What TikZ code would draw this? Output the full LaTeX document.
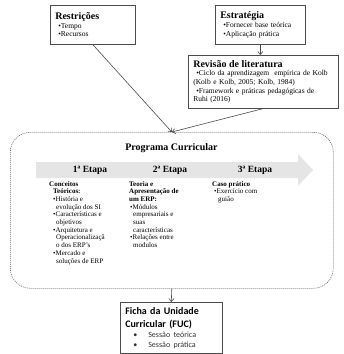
\documentclass[tikz,border=0pt]{standalone}
\usepackage{fontspec}
\setmainfont{Liberation Serif}
\newfontfamily\fucfont{Carlito}
\usetikzlibrary{arrows.meta}

\begin{document}
\begin{tikzpicture}[x=1pt,y=-1pt]
  \tikzstyle{caixa}=[draw=black!70, line width=0.6pt, anchor=north west, inner sep=5pt, align=left, font=\fontsize{7.5}{8.6}\selectfont]
  \tikzstyle{texto}=[anchor=north west, inner sep=0pt, align=left, font=\fontsize{7}{7.7}\selectfont]
  \tikzstyle{etapa}=[inner sep=0pt, font=\bfseries\fontsize{9.5}{11}\selectfont]
  \tikzstyle{seta}=[-{Straight Barb[length=3pt,width=5pt]}, draw=black!70, line width=0.6pt]
  \useasboundingbox[fill=white] (0,0) rectangle (344,354);

  % caixas de cima
  \node[caixa, text width=75pt, minimum height=39pt] (restr) at (50,5)
    {{\bfseries\fontsize{10}{12}\selectfont Restrições\par}
     \hspace*{3pt}•Tempo\\
     \hspace*{3pt}•Recursos};
  \node[caixa, text width=80pt, minimum height=39pt] (est) at (215,5)
    {{\bfseries\fontsize{10}{12}\selectfont Estratégia\par}
     \hspace*{3pt}•Fornecer base teórica\\
     \hspace*{3pt}•Aplicação prática};
  \node[caixa, text width=140pt, minimum height=52pt] (rev) at (188,55)
    {{\bfseries\fontsize{10}{12}\selectfont Revisão de literatura\par}
     \hspace*{3pt}•Ciclo da aprendizagem \ empírica de Kolb\\
     (Kolb e Kolb, 2005; Kolb, 1984)\\
     \hspace*{3pt}•Framework e práticas pedagógicas de\\
     Ruhi (2016)};

  % programa curricular
  \node[draw=black!60, line width=0.6pt, dash pattern=on 1pt off 1pt, rounded corners=20pt,
        anchor=north west, minimum width=323pt, minimum height=156pt] (prog) at (10,132) {};
  \node[inner sep=0pt, font=\bfseries\fontsize{10}{12}\selectfont] (titulo) at (171.5,148) {Programa Curricular};
  \fill[black!10] (36,162) -- (298,162) -- (298,154) -- (313,170) -- (298,186) -- (298,178) -- (36,178) -- cycle;
  \node[etapa] (e1) at (90,170) {1ª Etapa};
  \node[etapa] (e2) at (170,170) {2ª Etapa};
  \node[etapa] (e3) at (255,170) {3ª Etapa};

  \node[texto] (c1) at (49,181)
    {\textbf{Conceitos}\\
     \hspace*{4pt}\textbf{Teóricos:}\\
     \hspace*{4pt}•História e\\
     \hspace*{7pt}evolução dos SI\\
     \hspace*{4pt}•Características e\\
     \hspace*{7pt}objetivos\\
     \hspace*{4pt}•Arquitetura e\\
     \hspace*{7pt}Operacionalizaçã\\
     \hspace*{7pt}o dos ERP’s\\
     \hspace*{4pt}•Mercado e\\
     \hspace*{7pt}soluções de ERP};
  \node[texto] (c2) at (129,181)
    {\textbf{Teoria e}\\
     \textbf{Apresentação de}\\
     \textbf{um ERP:}\\
     \hspace*{1pt}•Módulos\\
     \hspace*{4pt}empresariais e\\
     \hspace*{4pt}suas\\
     \hspace*{4pt}características\\
     \hspace*{1pt}•Relações entre\\
     \hspace*{4pt}modulos};
  \node[texto] (c3) at (212,181)
    {\textbf{Caso prático}\\
     \hspace*{2pt}•Exercício com\\
     \hspace*{6pt}guião};

  % ficha
  \node[caixa, text width=92pt, minimum height=51pt, font=\fucfont] (fuc) at (120,302)
    {{\bfseries\fontsize{10}{13}\selectfont Ficha da Unidade\\ Curricular (FUC)\par}
     {\fontsize{8}{10}\selectfont\color{black!80}
      \hspace*{8pt}•\hspace{11pt}Sessão teórica\\
      \hspace*{8pt}•\hspace{11pt}Sessão prática\par}};

  \draw[seta] (restr.south) -- (prog.north);
  \draw[seta] (rev.south) -- (prog.north);
  \draw[seta] (est.south) -- (est.south |- rev.north);
  \draw[seta] (prog.south) -- (fuc.north);
\end{tikzpicture}
\end{document}
